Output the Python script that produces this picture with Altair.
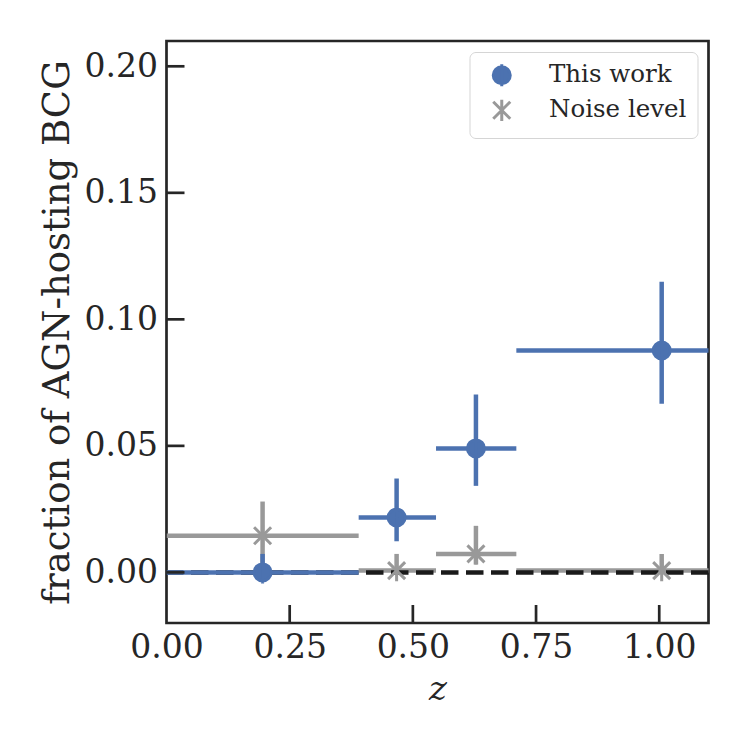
import altair as alt
import pandas as pd

# ---- data ----
series_names = ["This work", "Noise level"]

z_center = [0.195, 0.467, 0.628, 1.005]
z_low = [0.0, 0.39, 0.547, 0.71]
z_high = [0.39, 0.547, 0.71, 1.25]

frac = [0.0, 0.0217, 0.049, 0.0877]
frac_low = [0.0, 0.0123, 0.0342, 0.0666]
frac_high = [0.0073, 0.0371, 0.0703, 0.1149]

noise = [0.0145, 0.0007, 0.0073, 0.0007]
noise_low = [0.001, 0.0, 0.0031, 0.0]
noise_high = [0.028, 0.0073, 0.0184, 0.0073]

x_ticks = [0.0, 0.25, 0.5, 0.75, 1.0]
y_ticks = [0.0, 0.05, 0.10, 0.15, 0.20]

BLUE = "#4c72b0"
GRAY = "#999999"
FONT = "DejaVu Serif"
W, H = 542, 582

blue = pd.DataFrame({"series": series_names[0], "z": z_center, "zlo": z_low, "zhi": z_high,
                     "f": frac, "flo": frac_low, "fhi": frac_high})
gray = pd.DataFrame({"series": series_names[1], "z": z_center, "zlo": z_low, "zhi": z_high,
                     "f": noise, "flo": noise_low, "fhi": noise_high})

xs = alt.Scale(domain=[0, 1.1], nice=False, zero=False)
ys = alt.Scale(domain=[-0.02, 0.21], nice=False, zero=False)

xax = alt.Axis(values=x_ticks, format=".2f", ticks=False, domain=False, grid=False,
               labelFlush=False, labelOverlap=False,
               labelFont=FONT, labelFontSize=33, labelColor="#262626", labelPadding=8,
               title="z", titleFont=FONT, titleFontStyle="italic", titleFontWeight="normal",
               titleFontSize=34, titleColor="#262626", titlePadding=8)
yax = alt.Axis(values=y_ticks, format=".2f", ticks=False, domain=False, grid=False,
               labelFlush=False, labelOverlap=False,
               labelFont=FONT, labelFontSize=33, labelColor="#262626", labelPadding=9,
               title="fraction of AGN-hosting BCG", titleFont=FONT, titleFontWeight="normal",
               titleFontSize=37, titleColor="#262626", titlePadding=8)


def errbars(df, color):
    base = alt.Chart(df)
    h = base.mark_rule(color=color, strokeWidth=4.5, clip=True).encode(
        x=alt.X("zlo:Q", scale=xs, axis=xax), x2="zhi:Q",
        y=alt.Y("f:Q", scale=ys, axis=yax))
    v = base.mark_rule(color=color, strokeWidth=4.5, clip=True).encode(
        x="z:Q", y="flo:Q", y2="fhi:Q")
    return h + v


gray_err = errbars(gray, GRAY)
blue_err = errbars(blue, BLUE)

zero_line = alt.Chart(pd.DataFrame({"y0": [0.0]})).mark_rule(
    color="#1a1a1a", strokeWidth=4.5, strokeDash=[17.5, 7.5]).encode(y="y0:Q")

circle_path = "M0,-1.3L0,1.3M1,0A1,1,0,1,1,-1,0A1,1,0,1,1,1,0Z"
star_path = "M-1,-1L1,1M-1,1L1,-1M0,-1.25L0,1.25"

legend = alt.Legend(title=None, orient="top-right", offset=11,
                    labelFont=FONT, labelFontSize=24.5, labelColor="#262626",
                    symbolSize=289, symbolStrokeWidth=3, labelOffset=35,
                    padding=11, rowPadding=0, strokeColor="#d5d5d5",
                    fillColor="white", cornerRadius=6, symbolOffset=9)

color_scale = alt.Scale(domain=series_names, range=[BLUE, GRAY])
shape_scale = alt.Scale(domain=series_names, range=[circle_path, star_path])


def points(df):
    return alt.Chart(df).mark_point(size=289, strokeWidth=3, opacity=1, clip=True).encode(
        x="z:Q", y="f:Q",
        fill=alt.Fill("series:N", scale=color_scale, legend=legend),
        stroke=alt.Stroke("series:N", scale=color_scale, legend=legend),
        shape=alt.Shape("series:N", scale=shape_scale, legend=legend))


gray_pts = points(gray)
blue_pts = points(blue)

xt = alt.Chart(pd.DataFrame({"t": x_ticks[1:]})).mark_rule(
    color="#262626", strokeWidth=2.7).encode(x="t:Q", y=alt.value(H), y2=alt.value(H - 18))
yt = alt.Chart(pd.DataFrame({"t": y_ticks})).mark_rule(
    color="#262626", strokeWidth=2.7).encode(y="t:Q", x=alt.value(0), x2=alt.value(18))

chart = alt.layer(gray_err, zero_line, gray_pts, blue_err, blue_pts, xt, yt).properties(
    width=W, height=H,
    background="white",
    autosize=alt.AutoSizeParams(type="none"),
    padding={"left": 158.5, "top": 33, "right": 30, "bottom": 100},
).configure_view(stroke="#262626", strokeWidth=2.7)

chart.save("out.html", embed_options={"renderer": "svg", "actions": False})
